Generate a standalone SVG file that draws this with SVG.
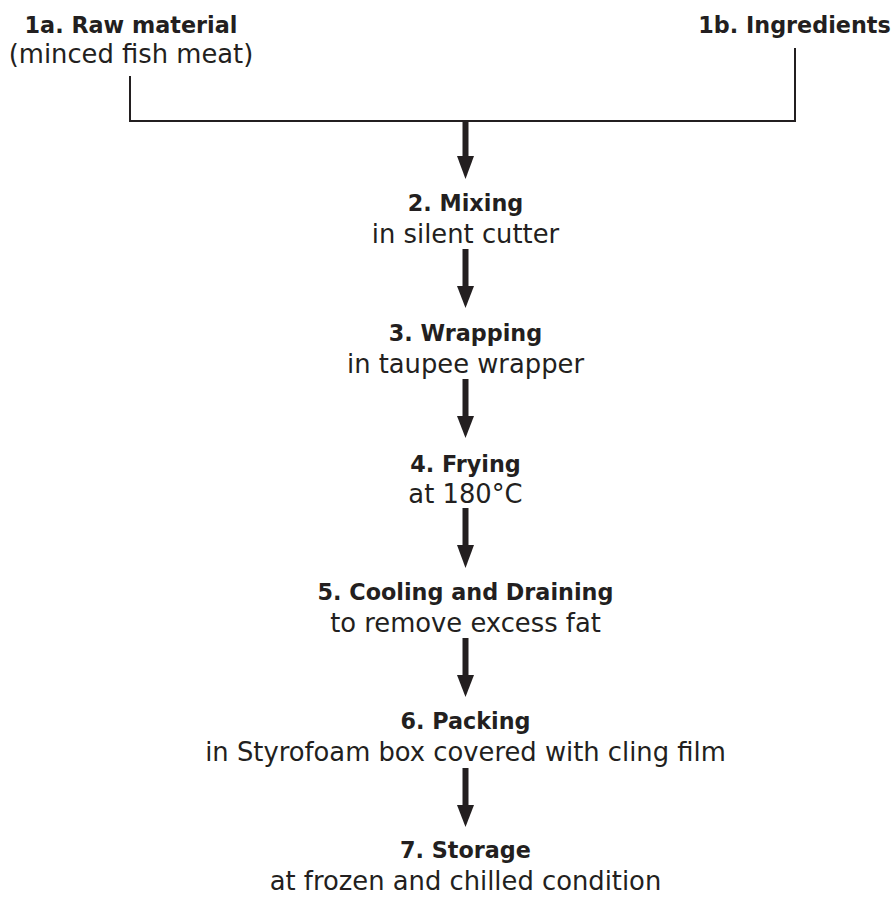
<svg xmlns="http://www.w3.org/2000/svg" width="892" height="898" viewBox="0 0 892 898">
<defs>
<style>
.t{font-family:"DejaVu Sans","Liberation Sans",sans-serif;font-weight:bold;font-size:22.3px;fill:#231f20;text-anchor:middle}
.s{font-family:"DejaVu Sans","Liberation Sans",sans-serif;font-size:25.8px;fill:#231f20;text-anchor:middle}
.ln{stroke:#231f20;stroke-width:2;fill:none}
.sh{stroke:#231f20;stroke-width:6;fill:none}
.hd{fill:#231f20}
</style>
</defs>
<rect width="892" height="898" fill="#ffffff"/>
<g id="connectors">
<polyline class="ln" points="130,76 130,121 795,121 795,48"/>
<g id="a1"><line class="sh" x1="465.5" y1="120" x2="465.5" y2="158"/><polygon class="hd" points="457,156 474,156 465.5,179"/></g>
<g id="a2"><line class="sh" x1="465.5" y1="249" x2="465.5" y2="288"/><polygon class="hd" points="457,286 474,286 465.5,308"/></g>
<g id="a3"><line class="sh" x1="465.5" y1="379" x2="465.5" y2="418"/><polygon class="hd" points="457,416 474,416 465.5,438"/></g>
<g id="a4"><line class="sh" x1="465.5" y1="508" x2="465.5" y2="547"/><polygon class="hd" points="457,545 474,545 465.5,568"/></g>
<g id="a5"><line class="sh" x1="465.5" y1="638" x2="465.5" y2="677"/><polygon class="hd" points="457,675 474,675 465.5,697"/></g>
<g id="a6"><line class="sh" x1="465.5" y1="768" x2="465.5" y2="807"/><polygon class="hd" points="457,805 474,805 465.5,827"/></g>
</g>
<g id="n1a"><text class="t" x="131" y="33">1a. Raw material</text><text class="s" x="131" y="63">(minced fish meat)</text></g>
<g id="n1b"><text class="t" x="794.5" y="33">1b. Ingredients</text></g>
<g id="n2"><text class="t" x="465.5" y="211">2. Mixing</text><text class="s" x="465.5" y="243">in silent cutter</text></g>
<g id="n3"><text class="t" x="465.5" y="341">3. Wrapping</text><text class="s" x="465.5" y="373">in taupee wrapper</text></g>
<g id="n4"><text class="t" x="465.5" y="472">4. Frying</text><text class="s" x="465.5" y="503">at 180°C</text></g>
<g id="n5"><text class="t" x="465.5" y="600">5. Cooling and Draining</text><text class="s" x="465.5" y="632">to remove excess fat</text></g>
<g id="n6"><text class="t" x="465.5" y="729">6. Packing</text><text class="s" x="465.5" y="761">in Styrofoam box covered with cling film</text></g>
<g id="n7"><text class="t" x="465.5" y="858">7. Storage</text><text class="s" x="465.5" y="890">at frozen and chilled condition</text></g>
</svg>
